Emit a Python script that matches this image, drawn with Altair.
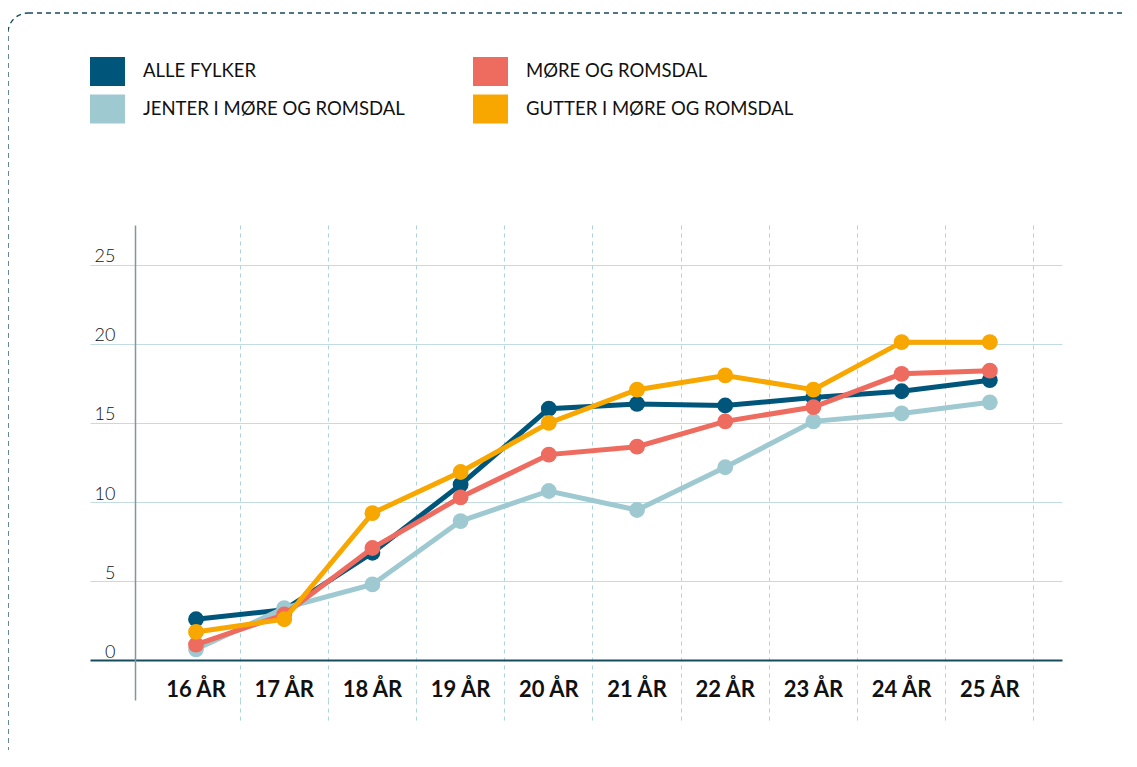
import altair as alt
import pandas as pd

ages = ["16 ÅR", "17 ÅR", "18 ÅR", "19 ÅR", "20 ÅR", "21 ÅR", "22 ÅR", "23 ÅR", "24 ÅR", "25 ÅR"]
alle_fylker = [2.6, 3.2, 6.8, 11.1, 15.9, 16.2, 16.1, 16.6, 17.0, 17.7]
more_romsdal = [1.0, 2.9, 7.1, 10.3, 13.0, 13.5, 15.1, 16.0, 18.1, 18.3]
jenter = [0.7, 3.3, 4.8, 8.8, 10.7, 9.5, 12.2, 15.1, 15.6, 16.3]
gutter = [1.8, 2.6, 9.3, 11.9, 15.0, 17.1, 18.0, 17.1, 20.1, 20.1]

# legend order (column-major in a 2-column legend)
series_names = ["ALLE FYLKER", "JENTER I MØRE OG ROMSDAL", "MØRE OG ROMSDAL", "GUTTER I MØRE OG ROMSDAL"]
series_colors = ["#00567a", "#9fc9d1", "#ee6b5f", "#f8a600"]
draw_order = ["ALLE FYLKER", "JENTER I MØRE OG ROMSDAL", "MØRE OG ROMSDAL", "GUTTER I MØRE OG ROMSDAL"]
y_ticks = [0, 5, 10, 15, 20, 25]

values = {
    "ALLE FYLKER": alle_fylker,
    "MØRE OG ROMSDAL": more_romsdal,
    "JENTER I MØRE OG ROMSDAL": jenter,
    "GUTTER I MØRE OG ROMSDAL": gutter,
}
color_of = dict(zip(series_names, series_colors))
rows = []
for name in draw_order:
    for a, v in zip(ages, values[name]):
        rows.append({"alder": a, "verdi": v, "serie": name})
df = pd.DataFrame(rows)

FONT = "Lato"

x_enc = alt.X(
    "alder:N",
    sort=ages,
    scale=alt.Scale(type="band", domain=ages, paddingInner=0, paddingOuter=0.5102, align=0.688),
    axis=alt.Axis(
        title=None, domain=False, grid=True, gridColor="#aed5dd", gridDash=[4, 4], gridWidth=1,
        ticks=True, tickSize=20, tickColor="#aed5dd", tickDash=[4, 4], tickWidth=1,
        bandPosition=1, labelPadding=-24, labelBaseline="alphabetic",
        labelFont=FONT, labelFontSize=22, labelFontWeight="bold", labelColor="#111111", labelAngle=0,
    ),
)
y_enc = alt.Y(
    "verdi:Q",
    scale=alt.Scale(domain=[-2.5, 27.5], nice=False, zero=False),
    axis=alt.Axis(
        title=None, values=y_ticks, grid=True,
        gridColor={"condition": {"test": "datum.value === 0", "value": "#164c5e"}, "value": "#c3dce1"},
        gridWidth={"condition": {"test": "datum.value === 0", "value": 2}, "value": 1},
        domain=True, domainColor="#7f97a1", domainWidth=1.5, offset=-45, ticks=False,
        labelPadding=20, labelBaseline="alphabetic", labelOffset=-3,
        labelFont=FONT, labelFontSize=18, labelFontWeight=300, labelColor="#111111",
    ),
)

color_scale = alt.Scale(domain=series_names, range=series_colors)
color_legend = alt.Color(
    "serie:N", scale=color_scale,
    legend=alt.Legend(
        title=None, orient="none", legendX=0, legendY=-171.5, columns=2, columnPadding=68, rowPadding=5,
        symbolType="M-1,-0.83H1V0.83H-1Z", symbolSize=1225, symbolStrokeWidth=0, symbolOpacity=1,
        labelFont=FONT, labelFontSize=18.5, labelColor="#111111", labelOffset=18, labelLimit=500, padding=0,
    ),
)

frame = alt.Chart(pd.DataFrame({"f": [0]})).mark_rect(
    filled=False, stroke="#164a5e", strokeWidth=1.3, strokeDash=[5, 4], cornerRadius=20
).encode(x=alt.value(-82), x2=alt.value(1060), y=alt.value(-212), y2=alt.value(546))

layers = [frame]
for name in draw_order:
    base = alt.Chart(df).transform_filter(alt.datum.serie == name)
    layers.append(base.mark_line(strokeWidth=5, color=color_of[name]).encode(x=x_enc, y=y_enc))
    layers.append(base.mark_circle(size=250, opacity=1).encode(x=x_enc, y=y_enc, color=color_legend))

chart = alt.layer(*layers).properties(
    width=972, height=475,
    padding={"left": 82, "top": 217, "right": 60, "bottom": 50},
    autosize=alt.AutoSizeParams(type="none"),
).configure_view(stroke=None)

chart.save("out.html", embed_options={"renderer": "svg", "actions": False})
